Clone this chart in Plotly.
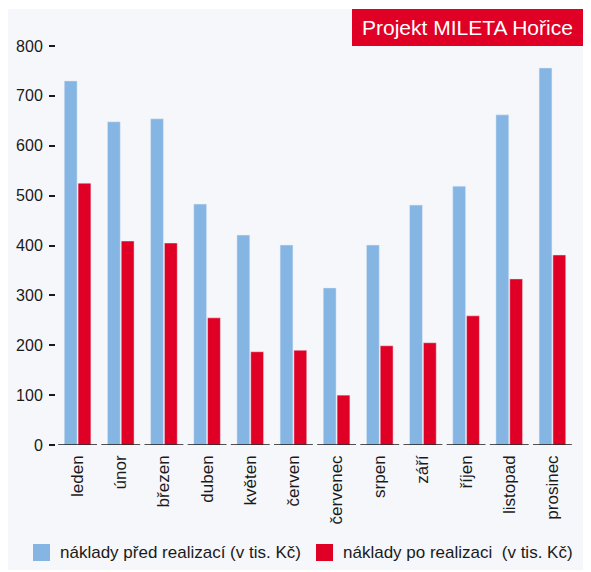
import plotly.graph_objects as go

months = ['leden', 'únor', 'březen', 'duben', 'květen', 'červen',
          'červenec', 'srpen', 'září', 'říjen', 'listopad', 'prosinec']
before = [730, 648, 654, 483, 421, 401, 315, 401, 481, 519, 662, 756]
after = [525, 409, 405, 255, 187, 190, 100, 199, 205, 259, 333, 381]
series_names = ['náklady před realizací (v tis. Kč)', 'náklady po realizaci  (v tis. Kč)']

blue = '#85b5e3'
red = '#e10025'
panel = '#f6f7fb'
ink = '#1a1a1a'

# the page body has an 8px margin, so the figure is drawn 8px in from the window edge
OFF = 8
W, H = 591 - OFF, 572 - OFF
# plot area in window pixels: x 56..574, y 46..445
L, R, T, B = 56 - OFF, 591 - 574, 46 - OFF, 572 - 445
pw, ph = W - L - R, H - T - B


def px(x):
    return (x - OFF - L) / pw


def py(y):
    return (H - B - (y - OFF)) / ph


fig = go.Figure()
fig.add_trace(go.Bar(x=months, y=before, marker_color=blue, name=series_names[0]))
fig.add_trace(go.Bar(x=months, y=after, marker_color=red, name=series_names[1]))

shapes = [dict(type='rect', xref='paper', yref='paper', x0=px(7), x1=px(590), y0=py(570), y1=py(9),
               fillcolor=panel, line_width=0, layer='below'),
          dict(type='rect', xref='paper', yref='paper', x0=px(352), x1=px(590), y0=py(46), y1=py(9),
               fillcolor=red, line_width=0)]
# short baseline under each month
for i in range(len(months)):
    shapes.append(dict(type='line', xref='x', yref='y', x0=i - 0.45, x1=i + 0.45, y0=0, y1=0,
                       line=dict(color=ink, width=1.5)))

annotations = [dict(text='Projekt MILETA Hořice', xref='paper', yref='paper', x=px(360), y=py(28),
                    xanchor='left', yanchor='middle', showarrow=False,
                    font=dict(size=21, color='white'))]

# legend drawn by hand
leg_x = [33, 316]
for name, color, lx in zip(series_names, [blue, red], leg_x):
    shapes.append(dict(type='rect', xref='paper', yref='paper', x0=px(lx), x1=px(lx + 17),
                       y0=py(561), y1=py(544), fillcolor=color, line_width=0))
    annotations.append(dict(text=name.replace('  ', '&nbsp; '), xref='paper', yref='paper',
                            x=px(lx + 25), y=py(552), xanchor='left', yanchor='middle',
                            showarrow=False, font=dict(size=17, color=ink)))

fig.update_layout(
    width=W, height=H,
    margin=dict(l=L, r=R, t=T, b=B),
    paper_bgcolor='white', plot_bgcolor='rgba(0,0,0,0)',
    font=dict(family='Liberation Sans, Arial, sans-serif', color=ink),
    barmode='group', bargap=0.36, bargroupgap=0.07,
    showlegend=False,
    shapes=shapes,
    annotations=annotations,
    xaxis=dict(tickangle=-90, tickfont=dict(size=17), showline=False, showgrid=False,
               ticks='', range=[-0.5, 11.5], automargin=False, ticklabelstandoff=6),
    yaxis=dict(range=[0, 800], tickvals=[0, 100, 200, 300, 400, 500, 600, 700, 800],
               showgrid=False, zeroline=False, showline=False, ticks='outside', ticklen=6,
               tickwidth=2, tickcolor=ink, tickfont=dict(size=16), ticklabelstandoff=3,
               automargin=False),
)

fig.write_html('out.html')
